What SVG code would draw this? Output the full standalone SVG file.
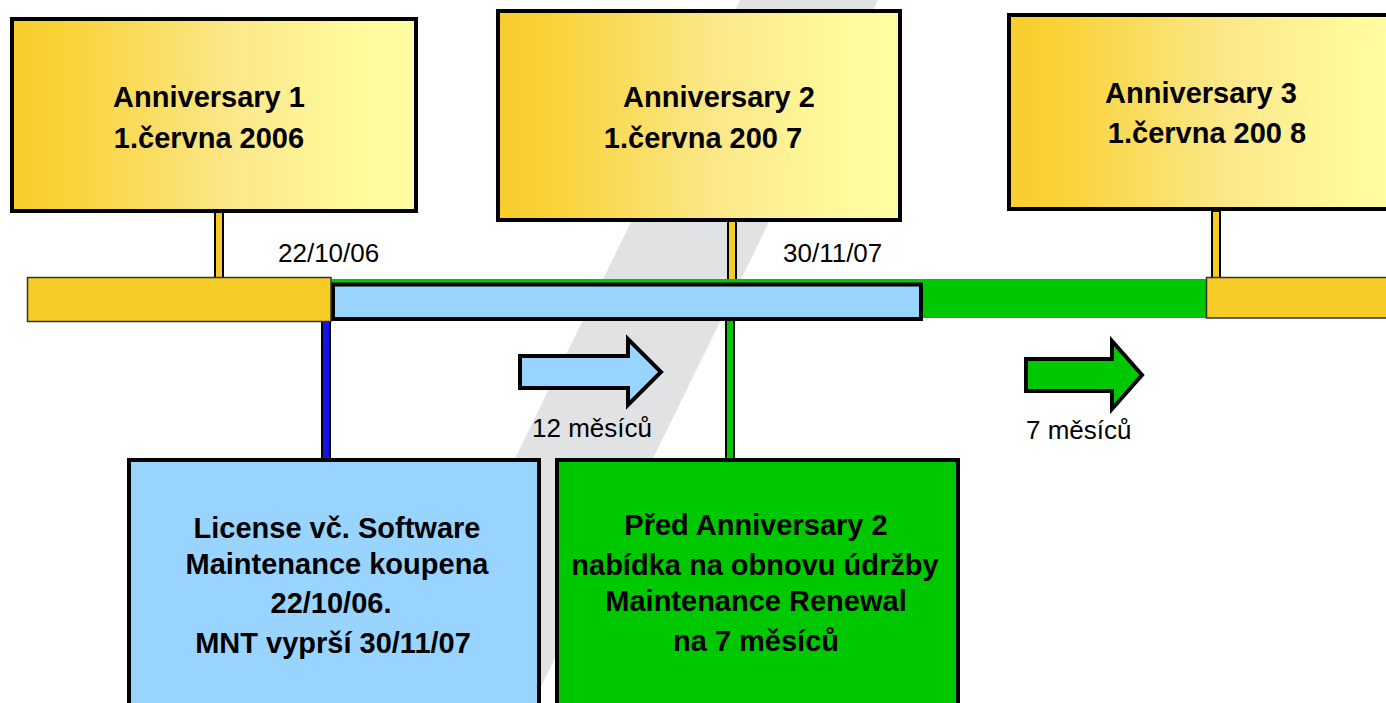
<svg xmlns="http://www.w3.org/2000/svg" width="1386" height="703" viewBox="0 0 1386 703">
<defs>
<linearGradient id="gold" x1="0" y1="0" x2="1" y2="0">
<stop offset="0" stop-color="#f8cd2c"/>
<stop offset="0.12" stop-color="#f9d236"/>
<stop offset="0.55" stop-color="#fbe88a"/>
<stop offset="0.85" stop-color="#fffa9c"/>
<stop offset="1" stop-color="#fffca3"/>
</linearGradient>
<style>
.box{stroke:#000;stroke-width:4}
.gold{fill:url(#gold)}
.t{font-family:"Liberation Sans",Arial,sans-serif;fill:#000}
.b{font-weight:bold;font-size:29px;text-anchor:middle}
.r{font-size:26px}
.stem{stroke:#000;stroke-width:2}
.arrow{stroke:#000;stroke-width:4;stroke-linejoin:miter}
</style>
</defs>
<rect width="1386" height="703" fill="#fff"/>
<polygon id="stripe" points="740,0 878,0 533,703 395,703" fill="#e1e2e4"/>

<g id="connectors">
<rect class="stem" x="215" y="211" width="8" height="67" fill="#f5cb25"/>
<rect class="stem" x="728" y="220" width="8" height="62" fill="#f5cb25"/>
<rect class="stem" x="1212" y="211" width="8" height="67" fill="#f5cb25"/>
<rect class="stem" x="322" y="320" width="8" height="139" fill="#1414e6"/>
<rect class="stem" x="726" y="320" width="8" height="139" fill="#00c800"/>
</g>

<g id="timeline">
<rect x="331" y="279" width="880" height="39" fill="#00c800"/>
<rect x="333" y="284.5" width="588" height="34.5" fill="#99d4ff" stroke="#000" stroke-width="4"/>
<rect x="27.5" y="277.5" width="303.5" height="44" fill="#f5cb25" stroke="#333" stroke-width="1.5"/>
<rect x="1206.5" y="277.5" width="190" height="40.5" fill="#f5cb25" stroke="#333" stroke-width="1.5"/>
</g>

<g id="anniversary1">
<rect class="box gold" x="12" y="19" width="404" height="192"/>
<text class="t b" x="209" y="107">Anniversary 1</text>
<text class="t b" x="209" y="148">1.června 2006</text>
</g>

<g id="anniversary2">
<rect class="box gold" x="498" y="11" width="402" height="209"/>
<text class="t b" x="719" y="107">Anniversary 2</text>
<text class="t b" x="703" y="148">1.června 200 7</text>
</g>

<g id="anniversary3">
<rect class="box gold" x="1009" y="15" width="400" height="194"/>
<text class="t b" x="1201" y="103">Anniversary 3</text>
<text class="t b" x="1207" y="143">1.června 200 8</text>
</g>

<text id="date1" class="t r" x="278" y="262">22/10/06</text>
<text id="date2" class="t r" x="783" y="262">30/11/07</text>

<g id="arrow12">
<polygon class="arrow" points="520,356 628,356 628,339 661,372 628,405 628,388 520,388" fill="#99d4ff"/>
<text class="t r" x="532" y="437">12 měsíců</text>
</g>

<g id="arrow7">
<polygon class="arrow" points="1026,359 1112,359 1112,341 1142,375 1112,409 1112,391 1026,391" fill="#00c800"/>
<text class="t r" x="1026" y="439">7 měsíců</text>
</g>

<g id="license">
<rect class="box" x="129" y="460" width="410" height="260" fill="#99d4ff"/>
<text class="t b" x="337" y="538">License vč. Software</text>
<text class="t b" x="337" y="574">Maintenance koupena</text>
<text class="t b" x="331" y="613">22/10/06.</text>
<text class="t b" x="333" y="653">MNT vyprší 30/11/07</text>
</g>

<g id="renewal">
<rect class="box" x="557" y="460" width="401" height="260" fill="#00c800"/>
<text class="t b" x="756" y="535">Před Anniversary 2</text>
<text class="t b" x="755" y="575">nabídka na obnovu údržby</text>
<text class="t b" x="756" y="611">Maintenance Renewal</text>
<text class="t b" x="756" y="651">na 7 měsíců</text>
</g>
</svg>
